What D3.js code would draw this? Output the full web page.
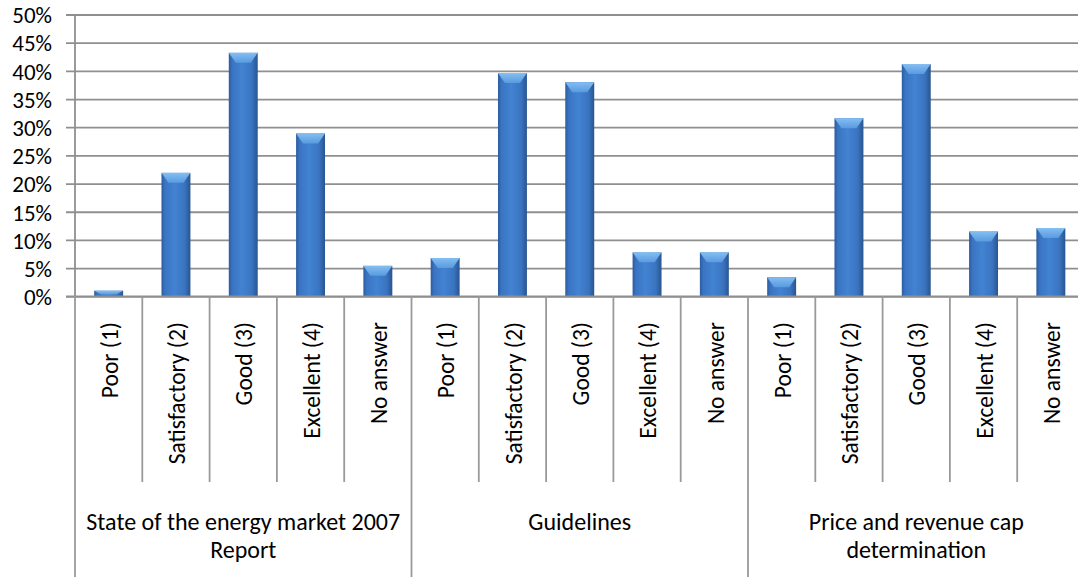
<!DOCTYPE html>
<html>
<head>
<meta charset="utf-8">
<script src="https://cdn.jsdelivr.net/npm/d3@7"></script>
<style>
  html, body { margin: 0; padding: 0; background: #fff; }
  svg { display: block; font-family: Carlito, Calibri, Lato, sans-serif; }
</style>
</head>
<body>
<svg id="chart" width="1078" height="577"></svg>
<script>
// Survey ratings per topic (share of respondents)
const groups = [
  ["State of the energy market 2007", "Report"],
  ["Guidelines"],
  ["Price and revenue cap", "determination"]
];
const ratings = ["Poor (1)", "Satisfactory (2)", "Good (3)", "Excellent (4)", "No answer"];
const stateOfMarket = [0.010, 0.219, 0.432, 0.289, 0.054];
const guidelines    = [0.068, 0.396, 0.380, 0.078, 0.078];
const priceRevenue  = [0.034, 0.316, 0.412, 0.115, 0.121];
const seriesByGroup = [stateOfMarket, guidelines, priceRevenue];
const yTicks = [0, 0.05, 0.10, 0.15, 0.20, 0.25, 0.30, 0.35, 0.40, 0.45, 0.50];

// flatten into one row per bar
const rows = [];
groups.forEach((g, gi) => ratings.forEach((r, ri) => {
  rows.push({ key: gi + "|" + ri, group: gi, rating: r, value: seriesByGroup[gi][ri] });
}));

const svg = d3.select("#chart");
const plotLeft = 75, plotRight = 1084.5, plotTop = 14.5, plotBottom = 296.3;

const x = d3.scaleBand().domain(rows.map(d => d.key)).range([plotLeft, plotRight]).padding(0);
const y = d3.scaleLinear().domain([0, 0.5]).range([plotBottom, plotTop]);

const defs = svg.append("defs");
const body = defs.append("linearGradient").attr("id", "barBody")
  .attr("x1", "0").attr("x2", "1").attr("y1", "0").attr("y2", "0");
[["0%", "#2b5c9f"], ["12%", "#3a74c2"], ["45%", "#4283d2"], ["80%", "#3a74c0"], ["100%", "#28558f"]]
  .forEach(([o, c]) => body.append("stop").attr("offset", o).attr("stop-color", c));
const cap = defs.append("linearGradient").attr("id", "barCap")
  .attr("x1", "0").attr("x2", "0").attr("y1", "0").attr("y2", "1");
[["0%", "#8cc6f6"], ["100%", "#5c9de2"]]
  .forEach(([o, c]) => cap.append("stop").attr("offset", o).attr("stop-color", c));

// horizontal gridlines with outside ticks
const grid = d3.axisLeft(y).tickValues(yTicks).tickSize(-(plotRight - plotLeft)).tickFormat(d3.format(".0%")).tickPadding(23);
const gy = svg.append("g").attr("transform", `translate(${plotLeft},0)`).call(grid);
gy.select(".domain").remove();
gy.selectAll(".tick line").attr("x1", -9).attr("stroke", "#8f8f8f").attr("stroke-width", 1.8);
gy.selectAll(".tick text").attr("fill", "#000").attr("font-size", 23).attr("dy", "0.36em")
  .style("font-family", "Carlito, Calibri, Lato, sans-serif");

// vertical axis line
svg.append("line").attr("x1", plotLeft).attr("x2", plotLeft).attr("y1", plotTop).attr("y2", plotBottom)
  .attr("stroke", "#8f8f8f").attr("stroke-width", 1.8);

// bars
const bw = x.bandwidth() * 0.43;
const bars = svg.append("g").selectAll("g").data(rows).join("g")
  .attr("transform", d => `translate(${x(d.key) + (x.bandwidth() - bw) / 2},0)`);
bars.append("rect")
  .attr("x", 0).attr("width", bw)
  .attr("y", d => y(d.value)).attr("height", d => y(0) - y(d.value))
  .attr("fill", "url(#barBody)");
bars.append("path")
  .attr("d", d => {
    const y0 = y(d.value), h = Math.min(10, (y(0) - y(d.value)) * 0.7);
    return `M0,${y0}H${bw}L${bw * 0.76},${y0 + h}H${bw * 0.24}Z`;
  })
  .attr("fill", "url(#barCap)").attr("opacity", 0.9);

// baseline
svg.append("line").attr("x1", plotLeft - 9).attr("x2", plotRight).attr("y1", y(0)).attr("y2", y(0))
  .attr("stroke", "#8f8f8f").attr("stroke-width", 1.8);

// category separators and rotated labels
const sep = svg.append("g").attr("stroke", "#9a9a9a").attr("stroke-width", 1.8);
rows.forEach((d, i) => {
  const xl = x(d.key);
  const isGroupEdge = i % ratings.length === 0;
  sep.append("line").attr("x1", xl).attr("x2", xl).attr("y1", y(0))
    .attr("y2", isGroupEdge ? 577 : 482);
});
sep.append("line").attr("x1", plotRight).attr("x2", plotRight).attr("y1", y(0)).attr("y2", 577);

svg.append("g").selectAll("text").data(rows).join("text")
  .attr("transform", d => `translate(${x(d.key) + x.bandwidth() / 2 + 1},322) rotate(-90)`)
  .attr("text-anchor", "end").attr("dy", "0.35em")
  .attr("font-size", 23.5).attr("fill", "#000")
  .text(d => d.rating);

// group labels
const groupWidth = x.bandwidth() * ratings.length;
const gl = svg.append("g").selectAll("text").data(groups).join("text")
  .attr("text-anchor", "middle").attr("font-size", 24).attr("fill", "#000")
  .attr("x", (d, i) => plotLeft + groupWidth * (i + 0.5)).attr("y", 530);
gl.selectAll("tspan").data(d => d).join("tspan")
  .attr("x", function () { return this.parentNode.getAttribute("x"); })
  .attr("dy", (d, i) => i === 0 ? 0 : 28)
  .text(d => d);
</script>
</body>
</html>
